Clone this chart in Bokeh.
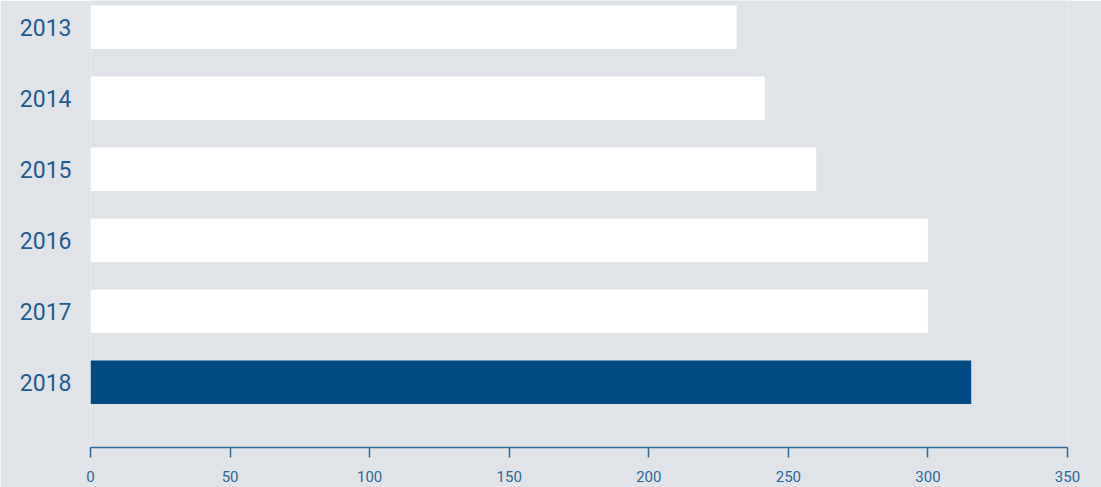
from bokeh.plotting import figure
from bokeh.models import Range1d, FixedTicker, ColumnDataSource
from bokeh.embed import file_html
from bokeh.resources import INLINE

years = ["2013", "2014", "2015", "2016", "2017", "2018"]
values = [231.5, 241.5, 260, 300, 300, 315.5]
bar_colors = ["#ffffff", "#ffffff", "#ffffff", "#ffffff", "#ffffff", "#004b84"]
x_ticks = [0, 50, 100, 150, 200, 250, 300, 350]

BG = "#e0e4e8"
TXT = "#1f5b90"

src = ColumnDataSource(dict(y=list(range(len(years))), v=values, c=bar_colors))

p = figure(width=1101, height=487, output_backend="svg", toolbar_location=None,
           x_range=Range1d(0, 350), y_range=Range1d(5.918, -0.377),
           min_border_left=90, min_border_right=34, min_border_top=0, min_border_bottom=40)
p.background_fill_color = BG
p.border_fill_color = BG
p.outline_line_color = None
p.grid.visible = False

p.hbar(y="y", left=0, right="v", height=0.613, color="c", line_color=None, source=src)

xa = p.xaxis[0]
xa.ticker = FixedTicker(ticks=x_ticks)
xa.axis_line_color = "#2d6898"
xa.axis_line_width = 1.5
xa.major_tick_line_color = "#2d6898"
xa.major_tick_line_width = 1.5
xa.major_tick_in = 0
xa.major_tick_out = 10
xa.minor_tick_line_color = None
xa.major_label_text_font = "Roboto"
xa.major_label_text_font_size = "15px"
xa.major_label_text_color = "#2d6898"
xa.major_label_standoff = 13

ya = p.yaxis[0]
ya.ticker = FixedTicker(ticks=list(range(len(years))))
ya.major_label_overrides = {i: y for i, y in enumerate(years)}
ya.axis_line_color = None
ya.major_tick_line_color = None
ya.minor_tick_line_color = None
ya.major_label_text_font = "Roboto"
ya.major_label_text_font_size = "23px"
ya.major_label_text_color = TXT
ya.major_label_standoff = 13

open("out.html", "w").write(file_html(p, INLINE))
